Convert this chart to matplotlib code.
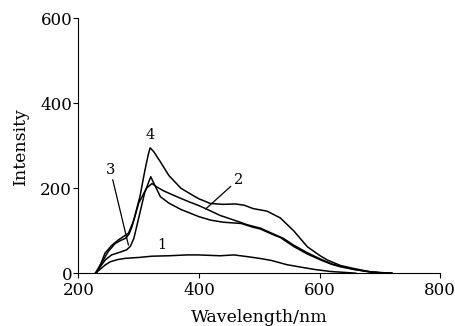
import numpy as np
import matplotlib.pyplot as plt

plt.rcParams['font.family'] = 'DejaVu Serif'

# curve 1 (flat, low)
wl_1 = [228, 235, 245, 253, 265, 278, 300, 322, 350, 380, 399, 435, 458, 480, 500,
        520, 546, 570, 591, 618, 640, 660]
int_1 = [0, 8, 20, 27, 32, 35, 37, 40, 41, 43, 43, 41, 43, 39, 35,
         30, 20, 14, 9, 4, 2, 0]

# curve 2 (broad peak)
wl_2 = [230, 238, 244, 255, 266, 283, 292, 300, 313, 322, 330, 341, 360, 380, 400,
        411, 435, 460, 480, 502, 524, 540, 557, 580, 602, 620, 635, 657, 679, 700, 720]
int_2 = [0, 25, 47, 65, 78, 94, 125, 165, 200, 211, 203, 194, 182, 170, 159,
         152, 136, 124, 114, 106, 92, 82, 66, 48, 33, 22, 16, 9, 4, 1, 0]

# curve 3 (sharp peak, low shoulder)
wl_3 = [229, 236, 245, 255, 266, 280, 286, 292, 300, 310, 320, 325, 336, 350, 370,
        400, 419, 440, 460, 470, 490, 502, 524, 535, 557, 580, 602, 620, 635, 657,
        679, 700, 720]
int_3 = [0, 15, 32, 43, 48, 55, 63, 82, 130, 190, 227, 212, 180, 165, 150,
         133, 125, 120, 118, 117, 108, 104, 90, 84, 63, 45, 31, 21, 15, 9,
         4, 1, 0]

# curve 4 (highest peak)
wl_4 = [228, 240, 250, 261, 270, 278, 284, 289, 302, 310, 316, 319, 325, 336, 350,
        370, 390, 400, 419, 440, 460, 475, 490, 513, 535, 557, 580, 600, 613, 635,
        657, 685, 720]
int_4 = [0, 28, 52, 70, 77, 82, 92, 110, 180, 240, 280, 295, 286, 262, 230,
         200, 183, 175, 164, 162, 163, 160, 152, 146, 130, 100, 62, 42, 31, 18,
         11, 3, 0]

fig = plt.figure(figsize=(4.56, 3.26), dpi=100)
ax = fig.add_axes([0.172, 0.162, 0.793, 0.782])

for wl, inten in [(wl_1, int_1), (wl_2, int_2), (wl_3, int_3), (wl_4, int_4)]:
    ax.plot(wl, inten, color='black', lw=1.1)

ax.set_xlim(200, 800)
ax.set_ylim(0, 600)
ax.set_xticks([200, 400, 600, 800])
ax.set_yticks([0, 200, 400, 600])
ax.spines['top'].set_visible(False)
ax.spines['right'].set_visible(False)
ax.tick_params(direction='out', length=3.5, labelsize=12)
ax.tick_params(axis='x', pad=3)
ax.tick_params(axis='y', pad=1)
ax.set_xlabel('Wavelength/nm', fontsize=12.5, labelpad=7)
ax.set_ylabel('Intensity', fontsize=12.5, labelpad=8)

arrow = dict(arrowstyle='-', color='black', lw=0.9, shrinkA=0, shrinkB=0)
ax.annotate('3', xy=(283, 66), xytext=(253, 243), fontsize=10.5, ha='center',
            va='center', arrowprops=arrow)
ax.annotate('2', xy=(411, 151), xytext=(465, 220), fontsize=10.5, ha='center',
            va='center', arrowprops=arrow)
ax.text(319, 325, '4', fontsize=10.5, ha='center', va='center')
ax.text(339, 67, '1', fontsize=10.5, ha='center', va='center')

fig.savefig('out.png', dpi=100)
